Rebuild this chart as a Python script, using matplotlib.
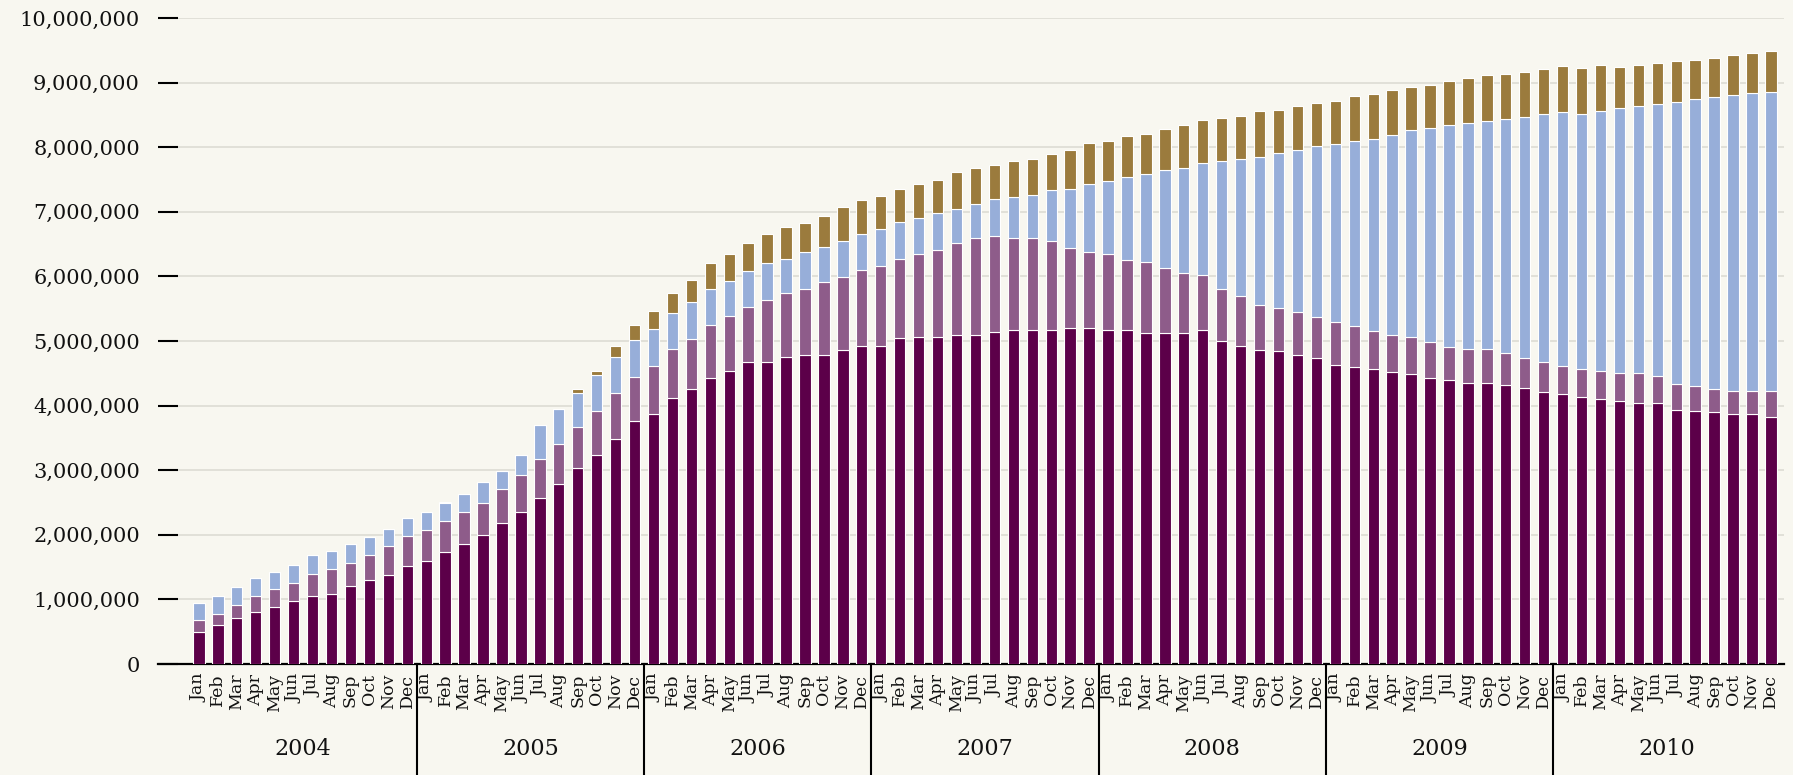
import matplotlib
matplotlib.use("Agg")
import matplotlib.pyplot as plt
import matplotlib.transforms as mtransforms
from matplotlib.ticker import FuncFormatter
import numpy as np

# ---------------- data (people, monthly 2004-2010) ----------------
years = ["2004", "2005", "2006", "2007", "2008", "2009", "2010"]
months = ["Jan", "Feb", "Mar", "Apr", "May", "Jun",
          "Jul", "Aug", "Sep", "Oct", "Nov", "Dec"]

# bottom series (dark purple), in millions
series_a = [0.49, 0.60, 0.71, 0.81, 0.88, 0.98, 1.05, 1.09, 1.20, 1.30, 1.37, 1.52,
            1.60, 1.74, 1.85, 2.00, 2.18, 2.35, 2.57, 2.78, 3.03, 3.24, 3.48, 3.76,
            3.87, 4.11, 4.26, 4.43, 4.54, 4.67, 4.68, 4.76, 4.79, 4.79, 4.86, 4.92,
            4.92, 5.04, 5.06, 5.06, 5.10, 5.10, 5.14, 5.17, 5.17, 5.17, 5.20, 5.20,
            5.17, 5.17, 5.13, 5.13, 5.13, 5.17, 5.00, 4.92, 4.86, 4.84, 4.78, 4.74,
            4.63, 4.60, 4.57, 4.52, 4.49, 4.43, 4.40, 4.35, 4.35, 4.32, 4.28, 4.21,
            4.18, 4.14, 4.10, 4.07, 4.04, 4.04, 3.93, 3.91, 3.90, 3.87, 3.87, 3.83]
# second series (mauve)
series_b = [0.19, 0.18, 0.21, 0.24, 0.28, 0.28, 0.35, 0.38, 0.37, 0.38, 0.45, 0.46,
            0.48, 0.48, 0.51, 0.50, 0.53, 0.57, 0.60, 0.63, 0.64, 0.67, 0.71, 0.69,
            0.75, 0.76, 0.77, 0.82, 0.85, 0.86, 0.96, 0.98, 1.02, 1.13, 1.13, 1.18,
            1.24, 1.23, 1.28, 1.35, 1.42, 1.49, 1.48, 1.42, 1.42, 1.38, 1.24, 1.18,
            1.17, 1.09, 1.10, 1.00, 0.92, 0.85, 0.81, 0.78, 0.70, 0.67, 0.67, 0.63,
            0.67, 0.63, 0.58, 0.57, 0.57, 0.55, 0.51, 0.52, 0.52, 0.49, 0.46, 0.46,
            0.44, 0.43, 0.44, 0.43, 0.46, 0.42, 0.40, 0.39, 0.35, 0.35, 0.35, 0.39]
# third series (light blue)
series_c = [0.27, 0.27, 0.27, 0.28, 0.27, 0.28, 0.28, 0.28, 0.28, 0.28, 0.27, 0.28,
            0.28, 0.28, 0.27, 0.31, 0.28, 0.32, 0.53, 0.54, 0.52, 0.57, 0.57, 0.56,
            0.56, 0.56, 0.58, 0.56, 0.54, 0.56, 0.57, 0.53, 0.57, 0.53, 0.56, 0.56,
            0.57, 0.57, 0.57, 0.57, 0.53, 0.53, 0.58, 0.64, 0.67, 0.78, 0.92, 1.05,
            1.13, 1.28, 1.35, 1.51, 1.63, 1.73, 1.98, 2.12, 2.29, 2.40, 2.51, 2.65,
            2.75, 2.87, 2.98, 3.10, 3.20, 3.32, 3.43, 3.50, 3.53, 3.63, 3.73, 3.84,
            3.93, 3.95, 4.02, 4.10, 4.14, 4.21, 4.37, 4.45, 4.53, 4.59, 4.62, 4.64]
# top series (brown)
series_d = [0.00, 0.00, 0.00, 0.00, 0.00, 0.00, 0.00, 0.00, 0.00, 0.00, 0.00, 0.00,
            0.00, 0.00, 0.00, 0.00, 0.00, 0.00, 0.00, 0.00, 0.06, 0.06, 0.17, 0.24,
            0.28, 0.31, 0.34, 0.39, 0.41, 0.42, 0.44, 0.49, 0.45, 0.48, 0.52, 0.52,
            0.52, 0.52, 0.52, 0.52, 0.56, 0.56, 0.52, 0.55, 0.56, 0.56, 0.60, 0.64,
            0.63, 0.63, 0.63, 0.64, 0.67, 0.67, 0.66, 0.67, 0.71, 0.66, 0.68, 0.66,
            0.66, 0.69, 0.69, 0.70, 0.67, 0.67, 0.69, 0.70, 0.71, 0.70, 0.70, 0.70,
            0.71, 0.71, 0.71, 0.64, 0.64, 0.63, 0.64, 0.60, 0.60, 0.61, 0.62, 0.63]

y_ticks = [0, 1000000, 2000000, 3000000, 4000000, 5000000,
           6000000, 7000000, 8000000, 9000000, 10000000]

colors = ["#5c0049", "#8e5c8a", "#97aed9", "#9b7b3d"]
bg = "#f8f7f0"
text_color = "#111111"

# ---------------- figure ----------------
W, H, DPI = 1793, 775, 100
fig = plt.figure(figsize=(W / DPI, H / DPI), dpi=DPI, facecolor=bg)
ax_left, ax_right = 158, 1784
ax_bottom, ax_top = 664, 18
ax = fig.add_axes([ax_left / W, (H - ax_bottom) / H,
                   (ax_right - ax_left) / W, (ax_bottom - ax_top) / H])
ax.set_facecolor(bg)

plt.rcParams["font.family"] = ["DejaVu Serif"]

n = len(years) * len(months)
x = np.arange(n)
scale = 1_000_000
stack = [np.array(s) * scale for s in (series_a, series_b, series_c, series_d)]
bottom = np.zeros(n)
for vals, col in zip(stack, colors):
    ax.bar(x, vals, width=0.6, bottom=bottom, color=col,
           edgecolor="white", linewidth=0.8, zorder=3)
    bottom = bottom + vals

ax.set_xlim(-2.16, 83.69)
ax.set_ylim(0, 10_000_000)

ax.set_yticks(y_ticks)
ax.yaxis.set_major_formatter(FuncFormatter(lambda v, p: f"{int(v):,}"))
ax.tick_params(axis="y", direction="in", length=14.4, width=1.5, color="black",
               pad=13, labelsize=15, labelcolor=text_color)
for lab in ax.get_yticklabels():
    lab.set_family("DejaVu Serif")
ax.grid(axis="y", color="#dddcd4", linewidth=1.2, zorder=0)
ax.set_axisbelow(True)

ax.set_xticks(x)
ax.set_xticklabels(months * len(years), rotation=90, fontsize=12.5,
                   family="DejaVu Serif", color=text_color, va="top", ha="center")
ax.tick_params(axis="x", length=0, pad=7)

for s in ("left", "right", "top"):
    ax.spines[s].set_visible(False)
ax.spines["bottom"].set_linewidth(1.6)
ax.spines["bottom"].set_color("black")

trans = mtransforms.blended_transform_factory(ax.transData, ax.transAxes)
ax_h = ax_bottom - ax_top
y_bottom_fig = -(H - ax_bottom) / ax_h
for i in range(1, len(years)):
    xs = i * 12 - 0.5
    ax.plot([xs, xs], [0, y_bottom_fig], color="black", linewidth=1.5,
            transform=trans, clip_on=False, zorder=5)

year_y = -(749 - ax_bottom) / ax_h
for i, yr in enumerate(years):
    ax.text(i * 12 + 5.5, year_y, yr, transform=trans, ha="center", va="center",
            fontsize=16, family="DejaVu Serif", color=text_color)

fig.savefig("out.png", dpi=DPI, facecolor=bg)
